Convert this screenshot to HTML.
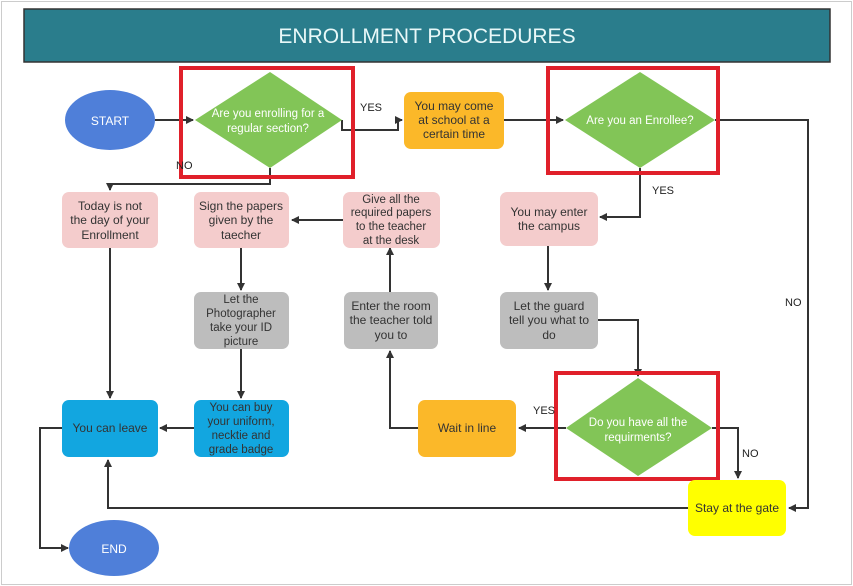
<!DOCTYPE html>
<html><head><meta charset="utf-8"><style>
body{margin:0;background:#fff;}
svg{display:block;font-family:"Liberation Sans","DejaVu Sans",sans-serif;}
</style></head><body>
<svg width="853" height="586" viewBox="0 0 853 586" xmlns="http://www.w3.org/2000/svg">
<defs><marker id="a" markerWidth="8" markerHeight="8" refX="7" refY="4" orient="auto" markerUnits="userSpaceOnUse"><path d="M0,0 L8,4 L0,8 z" fill="#333"/></marker></defs>
<rect x="1.5" y="1.5" width="850" height="583" fill="#fff" stroke="#ccc"/>
<rect x="24" y="9" width="806" height="53" fill="#2a7d8c" stroke="#333" stroke-width="1.5"/>
<text x="427" y="43" fill="#e8f8f8" font-size="21" text-anchor="middle">ENROLLMENT PROCEDURES</text>

<g stroke="#333" stroke-width="2" fill="none">
<path d="M155,120 H193" marker-end="url(#a)"/>
<path d="M342,120 V130 H398 V120" />
<path d="M396,120 H402" marker-end="url(#a)"/>
<path d="M504,120 H563" marker-end="url(#a)"/>
<path d="M715,120 H808 V508 H789" marker-end="url(#a)"/>
<path d="M640,168 V217 H600" marker-end="url(#a)"/>
<path d="M548,246 V290" marker-end="url(#a)"/>
<path d="M598,320 H638 V376" marker-end="url(#a)"/>
<path d="M566,428 H519" marker-end="url(#a)"/>
<path d="M712,428 H738 V478" marker-end="url(#a)"/>
<path d="M688,508 H108 V460" marker-end="url(#a)"/>
<path d="M418,428 H390 V351" marker-end="url(#a)"/>
<path d="M390,292 V248" marker-end="url(#a)"/>
<path d="M343,220 H292" marker-end="url(#a)"/>
<path d="M241,248 V290" marker-end="url(#a)"/>
<path d="M241,349 V398" marker-end="url(#a)"/>
<path d="M194,428 H160" marker-end="url(#a)"/>
<path d="M270,168 V184 H110 V190" marker-end="url(#a)"/>
<path d="M110,248 V398" marker-end="url(#a)"/>
<path d="M62,428 H40 V548 H68" marker-end="url(#a)"/>
</g>

<ellipse cx="110" cy="120" rx="45" ry="30" fill="#4f7fd9"/>
<text x="110" y="125" fill="#fff" font-size="12" text-anchor="middle">START</text>
<ellipse cx="114" cy="548" rx="45" ry="28" fill="#4f7fd9"/>
<text x="114" y="553" fill="#fff" font-size="12" text-anchor="middle">END</text>

<polygon points="195,120 270,72 342,120 270,168" fill="#82c557"/>
<text fill="#fff" font-size="11.5" text-anchor="middle"><tspan x="268" y="117">Are you enrolling for a</tspan><tspan x="268" y="132">regular section?</tspan></text>
<rect x="181" y="68" width="172" height="109" fill="none" stroke="#e0202a" stroke-width="4"/>

<polygon points="565,120 640,72 715,120 640,168" fill="#82c557"/>
<text x="640" y="124" fill="#fff" font-size="11.5" text-anchor="middle">Are you an Enrollee?</text>
<rect x="548" y="68" width="170" height="105" fill="none" stroke="#e0202a" stroke-width="4"/>

<polygon points="566,428 638,378 712,428 638,476" fill="#82c557"/>
<text fill="#fff" font-size="11.5" text-anchor="middle"><tspan x="638" y="426">Do you have all the</tspan><tspan x="638" y="441">requirments?</tspan></text>
<rect x="556" y="373" width="162" height="106" fill="none" stroke="#e0202a" stroke-width="4"/>

<g font-size="11" fill="#222">
<text x="360" y="111">YES</text>
<text x="176" y="169">NO</text>
<text x="652" y="194">YES</text>
<text x="785" y="306">NO</text>
<text x="533" y="414">YES</text>
<text x="742" y="457">NO</text>
</g>

<g font-size="12" fill="#333" text-anchor="middle">
<rect x="404" y="92" width="100" height="57" rx="7" fill="#fbb829"/>
<text><tspan x="454" y="110">You may come</tspan><tspan x="454" y="124">at school at a</tspan><tspan x="454" y="138">certain time</tspan></text>

<rect x="62" y="192" width="96" height="56" rx="7" fill="#f4cccc"/>
<text><tspan x="110" y="210">Today is not</tspan><tspan x="110" y="224">the day of your</tspan><tspan x="110" y="239">Enrollment</tspan></text>

<rect x="194" y="192" width="95" height="56" rx="7" fill="#f4cccc"/>
<text><tspan x="241" y="210">Sign the papers</tspan><tspan x="241" y="224">given by the</tspan><tspan x="241" y="239">taecher</tspan></text>

<rect x="343" y="192" width="97" height="56" rx="7" fill="#f4cccc"/>
<text font-size="11.5"><tspan x="391" y="203">Give all the</tspan><tspan x="391" y="216">required papers</tspan><tspan x="391" y="230">to the teacher</tspan><tspan x="391" y="244">at the desk</tspan></text>

<rect x="500" y="192" width="98" height="54" rx="7" fill="#f4cccc"/>
<text><tspan x="549" y="216">You may enter</tspan><tspan x="549" y="230">the campus</tspan></text>

<rect x="194" y="292" width="95" height="57" rx="7" fill="#bdbdbd"/>
<text font-size="11.5"><tspan x="241" y="303">Let the</tspan><tspan x="241" y="317">Photographer</tspan><tspan x="241" y="331">take your ID</tspan><tspan x="241" y="345">picture</tspan></text>

<rect x="344" y="292" width="94" height="57" rx="7" fill="#bdbdbd"/>
<text><tspan x="391" y="310">Enter the room</tspan><tspan x="391" y="324">the teacher told</tspan><tspan x="391" y="339">you to</tspan></text>

<rect x="500" y="292" width="98" height="57" rx="7" fill="#bdbdbd"/>
<text><tspan x="549" y="310">Let the guard</tspan><tspan x="549" y="324">tell you what to</tspan><tspan x="549" y="339">do</tspan></text>

<rect x="62" y="400" width="96" height="57" rx="7" fill="#12a6e0"/>
<text x="110" y="432">You can leave</text>

<rect x="194" y="400" width="95" height="57" rx="7" fill="#12a6e0"/>
<text font-size="11.5"><tspan x="241" y="411">You can buy</tspan><tspan x="241" y="425">your uniform,</tspan><tspan x="241" y="439">necktie and</tspan><tspan x="241" y="453">grade badge</tspan></text>

<rect x="418" y="400" width="98" height="57" rx="7" fill="#fbb829"/>
<text x="467" y="432">Wait in line</text>

<rect x="688" y="480" width="98" height="56" rx="7" fill="#ffff00"/>
<text x="737" y="512">Stay at the gate</text>
</g>
</svg>
</body></html>
